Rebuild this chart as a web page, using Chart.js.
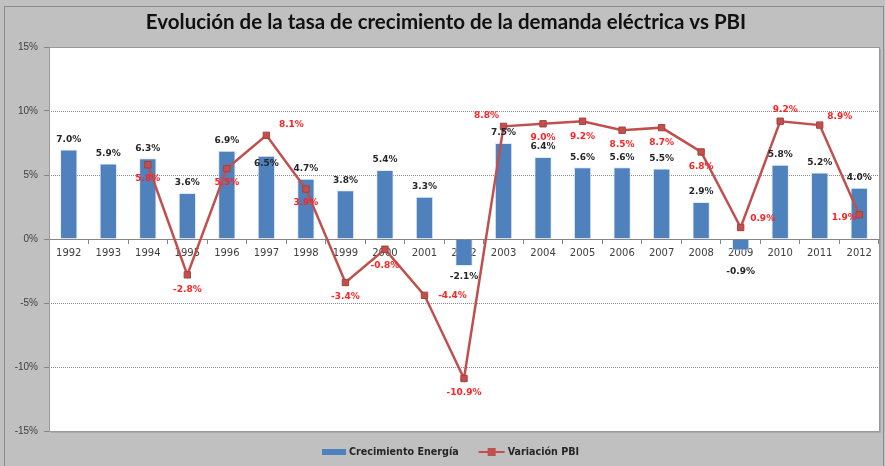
<!DOCTYPE html>
<html>
<head>
<meta charset="utf-8">
<script src="https://cdn.jsdelivr.net/npm/chart.js@4/dist/chart.umd.min.js"></script>
<style>
  html, body { margin: 0; padding: 0; background: #c0c0c0; }
  #wrap { width: 885px; height: 466px; }
</style>
</head>
<body>
<div id="wrap"><canvas id="chart" width="885" height="466"></canvas></div>
<script>
const years = ['1992','1993','1994','1995','1996','1997','1998','1999','2000','2001','2002',
               '2003','2004','2005','2006','2007','2008','2009','2010','2011','2012'];
const energia = [7.0, 5.9, 6.3, 3.6, 6.9, 6.5, 4.7, 3.8, 5.4, 3.3, -2.1,
                 7.5, 6.4, 5.6, 5.6, 5.5, 2.9, -0.9, 5.8, 5.2, 4.0];
const pbi = [null, null, 5.8, -2.8, 5.5, 8.1, 3.9, -3.4, -0.8, -4.4, -10.9,
             8.8, 9.0, 9.2, 8.5, 8.7, 6.8, 0.9, 9.2, 8.9, 1.9];
const yTicks = [-15, -10, -5, 0, 5, 10, 15];

// label placement (px offsets), kept apart from the values
const energiaLabelDy = [-10, -10, -10, -10, -10, 8, -10, -10, -10, -10, 11,
                        -10, -10, -10, -10, -10, -10, 21, -10, -10, -10];
const pbiLabelOff = [null, null, [0,14], [0,15], [0,14], [25,-11], [0,14], [0,14], [0,16], [28,0], [0,14],
                     [-17,-11], [0,14], [0,15], [0,14], [0,15], [0,14.5], [22,-9], [5,-12], [20,-8], [-15,3]];

const BLUE = '#4f81bd';
const RED = '#c0504d';

const framePlugin = {
  id: 'frame',
  beforeDraw(chart) {
    const {ctx, chartArea: a} = chart;
    ctx.save();
    ctx.fillStyle = '#c0c0c0';
    ctx.fillRect(0, 0, chart.width, chart.height);
    ctx.strokeStyle = '#8c8c8c';
    ctx.lineWidth = 1;
    ctx.strokeRect(4.5, 6.5, 879, 470);
    ctx.fillStyle = '#ffffff';
    ctx.fillRect(a.left, a.top, a.right - a.left, a.bottom - a.top);
    // dotted grid
    const y = chart.scales.y;
    ctx.strokeStyle = '#8a8a8a';
    ctx.setLineDash([1, 1]);
    yTicks.forEach(v => {
      if (v === 0 || Math.abs(v) === 15) return;
      const py = Math.round(y.getPixelForValue(v)) + 0.5;
      ctx.beginPath();
      ctx.moveTo(a.left, py);
      ctx.lineTo(a.right, py);
      ctx.stroke();
    });
    ctx.setLineDash([]);
    ctx.strokeStyle = '#9a9a9a';
    ctx.strokeRect(a.left + 0.5, a.top + 0.5, a.right - a.left, a.bottom - a.top);
    ctx.strokeStyle = '#a8a8a8';
    ctx.beginPath();
    ctx.moveTo(a.right + 1.5, a.top + 2);
    ctx.lineTo(a.right + 1.5, a.bottom + 1.5);
    ctx.lineTo(a.left + 2, a.bottom + 1.5);
    ctx.stroke();
    // title
    ctx.fillStyle = '#111111';
    ctx.font = 'bold 20.5px Lato';
    ctx.textAlign = 'center';
    ctx.textBaseline = 'middle';
    ctx.fillText('Evolución de la tasa de crecimiento de la demanda eléctrica vs PBI', 446, 22);
    ctx.restore();
  },
  afterDatasetsDraw(chart) {
    const {ctx} = chart;
    ctx.save();
    ctx.font = 'bold 9px "DejaVu Sans"';
    ctx.textAlign = 'center';
    ctx.textBaseline = 'middle';
    const bars = chart.getDatasetMeta(0).data;
    ctx.fillStyle = '#262626';
    bars.forEach((b, i) => {
      const v = energia[i];
      const edge = v >= 0 ? Math.min(b.y, b.base) : Math.max(b.y, b.base);
      ctx.fillText(v.toFixed(1) + '%', b.x, edge + energiaLabelDy[i]);
    });
    const pts = chart.getDatasetMeta(1).data;
    ctx.fillStyle = '#ff2222';
    pts.forEach((p, i) => {
      const v = pbi[i];
      if (v === null) return;
      const o = pbiLabelOff[i];
      ctx.fillText(v.toFixed(1) + '%', p.x + o[0], p.y + o[1]);
    });
    // legend
    ctx.font = 'bold 9.6px "DejaVu Sans"';
    ctx.textAlign = 'left';
    const ly = 452;
    const t1 = 'Crecimiento Energía', t2 = 'Variación PBI';
    const w1 = ctx.measureText(t1).width, w2 = ctx.measureText(t2).width;
    let x = 322;
    ctx.fillStyle = BLUE;
    ctx.fillRect(x, ly - 3, 24, 6);
    x += 27;
    ctx.fillStyle = '#262626';
    ctx.fillText(t1, x, ly);
    x += w1 + 20;
    ctx.strokeStyle = RED;
    ctx.lineWidth = 2;
    ctx.beginPath();
    ctx.moveTo(x, ly);
    ctx.lineTo(x + 26, ly);
    ctx.stroke();
    ctx.fillStyle = RED;
    ctx.fillRect(x + 9, ly - 4, 8, 8);
    x += 29;
    ctx.fillStyle = '#262626';
    ctx.fillText(t2, x, ly);
    ctx.restore();
  }
};

new Chart(document.getElementById('chart'), {
  data: {
    labels: years,
    datasets: [
      {
        type: 'bar',
        label: 'Crecimiento Energía',
        data: energia,
        backgroundColor: BLUE,
        borderColor: 'rgba(220,230,242,0.8)',
        borderWidth: 1,
        categoryPercentage: 1,
        barPercentage: 0.44,
        order: 1
      },
      {
        type: 'line',
        label: 'Variación PBI',
        data: pbi,
        borderColor: RED,
        borderWidth: 2.5,
        pointStyle: 'rect',
        pointRadius: 4.5,
        pointBackgroundColor: RED,
        pointBorderColor: '#a8403d',
        pointBorderWidth: 1,
        tension: 0,
        spanGaps: false,
        order: 0
      }
    ]
  },
  options: {
    responsive: false,
    animation: false,
    layout: { padding: { top: 47, right: 6, bottom: 35, left: 0 } },
    plugins: {
      legend: { display: false },
      title: { display: false },
      tooltip: { enabled: false }
    },
    scales: {
      x: {
        type: 'category',
        position: { y: 0 },
        offset: true,
        grid: { drawOnChartArea: false, offset: true, tickLength: 4, color: '#868686' },
        border: { color: '#868686' },
        ticks: {
          font: { family: 'DejaVu Sans', size: 10 },
          color: '#404040',
          padding: 4,
          maxRotation: 0,
          autoSkip: false
        }
      },
      y: {
        min: -15,
        max: 15,
        afterFit: s => { s.width = 49; },
        afterBuildTicks: s => { s.ticks = yTicks.map(v => ({ value: v })); },
        grid: { drawOnChartArea: false, drawTicks: true, tickLength: 5, tickColor: '#868686' },
        border: { color: '#9a9a9a' },
        ticks: {
          font: { family: 'Liberation Sans', size: 10 },
          color: '#404040',
          padding: 6,
          callback: v => v + '%'
        }
      }
    }
  },
  plugins: [framePlugin]
});
</script>
</body>
</html>
